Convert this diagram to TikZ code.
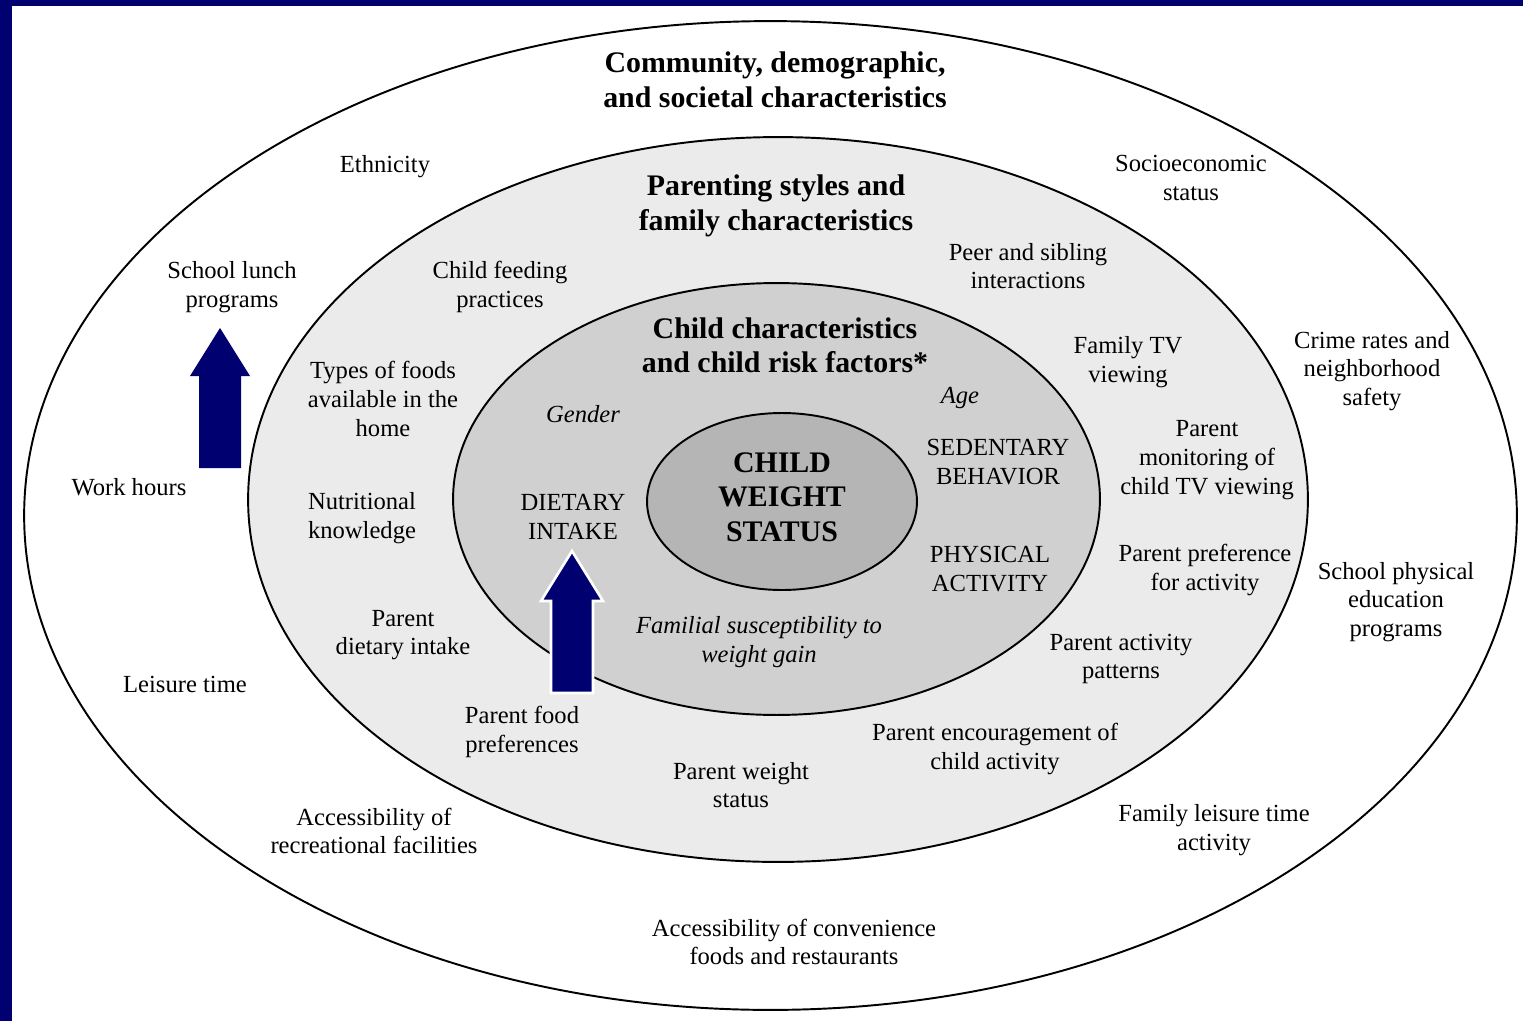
\documentclass[tikz,border=0pt]{standalone}
\usepackage{fontspec}
\setmainfont{Liberation Serif}
\usetikzlibrary{arrows.meta, positioning, calc, shapes.geometric}
\usepackage{xcolor}
\definecolor{azulmarino}{RGB}{0,0,112}
\definecolor{grisclaro}{RGB}{235,235,235}
\definecolor{grismedio}{RGB}{208,208,208}
\definecolor{grisoscuro}{RGB}{181,181,181}

\begin{document}
\begin{tikzpicture}[
	x=0.02cm, y=-0.02cm, % un pixel de la imagen original
	% --- Estilos ---
	anillo/.style={
		draw,
		ellipse,
		line width=1.1pt,
		inner sep=0pt
	},
	etiqueta/.style={
		align=center,
		inner sep=0pt,
		font=\fontsize{14}{16.4}\selectfont
	},
	cursiva/.style={
		etiqueta,
		font=\fontsize{14}{16.4}\selectfont\itshape
	},
	titulo/.style={
		align=center,
		inner sep=0pt,
		font=\fontsize{17}{19.6}\selectfont\bfseries
	},
	flecha_bloque/.style={
		fill=azulmarino
	}
	]
	% 0. Fondo y marco azul
	\useasboundingbox (0,0) rectangle (1523,1021);
	\fill[white] (0,0) rectangle (1523,1021);
	\fill[azulmarino] (0,0) rectangle (1523,6);
	\fill[azulmarino] (0,0) rectangle (12,1021);
	
	% 1. Elipses: de fuera hacia dentro
	\node[anillo, fill=white, minimum width=29.86cm, minimum height=19.78cm] (comunidad) at (770.5,515.5) {};
	\node[anillo, fill=grisclaro, minimum width=21.2cm, minimum height=14.5cm] (familia) at (778,499.5) {};
	\node[anillo, fill=grismedio, minimum width=12.94cm, minimum height=8.64cm] (nino) at (776.5,499) {};
	\node[anillo, fill=grisoscuro, minimum width=5.4cm, minimum height=3.54cm] (peso) at (782,501.5) {};
	\node[titulo] (t_peso) at (782,497) {CHILD\\WEIGHT\\STATUS};
	
	% 2. Anillo exterior: comunidad
	\node[titulo] (t_comunidad) at (775,80) {Community, demographic,\\and societal characteristics};
	\node[etiqueta] (etnia) at (385,167) {Ethnicity};
	\node[etiqueta] (socio) at (1191,178) {Socioeconomic\\status};
	\node[etiqueta] (almuerzo) at (232,287) {School lunch\\programs};
	\node[etiqueta] (horas) at (129,487) {Work hours};
	\node[etiqueta] (ocio) at (185,684) {Leisure time};
	\node[etiqueta] (recreo) at (374,831) {Accessibility of\\recreational facilities};
	\node[etiqueta] (comida_rapida) at (794,942) {Accessibility of convenience\\foods and restaurants};
	\node[etiqueta] (ocio_familiar) at (1214,830) {Family leisure time\\activity};
	\node[etiqueta] (educacion) at (1396,602) {School physical\\education\\programs};
	\node[etiqueta] (crimen) at (1372,371) {Crime rates and\\neighborhood\\safety};
	
	% 3. Anillo medio: familia
	\node[titulo] (t_familia) at (776,206) {Parenting styles and\\family characteristics};
	\node[etiqueta] (alimentacion) at (500,287) {Child feeding\\practices};
	\node[etiqueta] (pares) at (1028,266) {Peer and sibling\\interactions};
	\node[etiqueta] (tv) at (1128,362) {Family TV\\viewing};
	\node[etiqueta] (control_tv) at (1207,460) {Parent\\monitoring of\\child TV viewing};
	\node[etiqueta] (pref_act) at (1205,570) {Parent preference\\for activity};
	\node[etiqueta] (patrones) at (1121,659) {Parent activity\\patterns};
	\node[etiqueta] (animo) at (995,749) {Parent encouragement of\\child activity};
	\node[etiqueta] (peso_padre) at (741,785) {Parent weight\\status};
	\node[etiqueta] (pref_comida) at (522,732) {Parent food\\preferences};
	\node[etiqueta] (dieta_padre) at (403,635) {Parent\\dietary intake};
	\node[etiqueta] (nutricion) at (362,518) {Nutritional\\knowledge};
	\node[etiqueta] (alimentos) at (383,399) {Types of foods\\available in the\\home};
	
	% 4. Anillo interior: niño
	\node[titulo] (t_nino) at (785,345) {Child characteristics\\and child risk factors*};
	\node[cursiva] (genero) at (583,414) {Gender};
	\node[cursiva] (edad) at (960,398) {Age};
	\node[etiqueta] (sedentario) at (998,462) {SEDENTARY\\BEHAVIOR};
	\node[etiqueta] (actividad) at (990,569) {PHYSICAL\\ACTIVITY};
	\node[etiqueta] (dieta) at (573,517) {DIETARY\\INTAKE};
	\node[cursiva] (susceptibilidad) at (759,642) {Familial susceptibility to\\weight gain};
	
	% 5. Flechas de bloque
	\fill[flecha_bloque] (220,328) -- (250,376) -- (241,376) -- (241,468)
	-- (199,468) -- (199,376) -- (190,376) -- cycle;
	\filldraw[flecha_bloque, draw=white, line width=1.5pt] (572,551) -- (603,601) -- (593,601)
	-- (593,693) -- (551,693) -- (551,601) -- (541,601) -- cycle;
	
\end{tikzpicture}
\end{document}
